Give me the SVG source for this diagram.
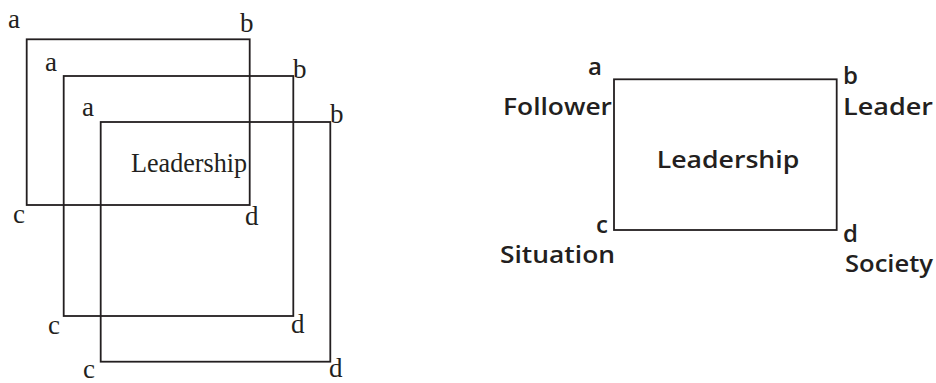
<svg xmlns="http://www.w3.org/2000/svg" width="936" height="383" viewBox="0 0 936 383">
<style>
.box{fill:none;stroke:#231f20;stroke-width:1.8}
.s{font-family:"Liberation Serif",serif;font-size:27px;fill:#231f20}
.r{font-family:"Open Sans","Noto Sans",sans-serif;font-size:24px;font-weight:600;fill:#231f20}
</style>
<rect width="936" height="383" fill="#fff"/>
<g id="rect1">
<rect class="box" x="26.7" y="39.3" width="223" height="165.7"/>
<text class="s" x="8" y="28">a</text>
<text class="s" x="240" y="32">b</text>
<text class="s" x="13" y="223">c</text>
<text class="s" x="245" y="225">d</text>
</g>
<g id="rect2">
<rect class="box" x="63.7" y="76" width="229.6" height="240"/>
<text class="s" x="45" y="71">a</text>
<text class="s" x="293" y="78">b</text>
<text class="s" x="48" y="334">c</text>
<text class="s" x="291" y="333">d</text>
</g>
<g id="rect3">
<rect class="box" x="100.7" y="122" width="229.6" height="239.7"/>
<text class="s" x="82" y="116">a</text>
<text class="s" x="330" y="123">b</text>
<text class="s" x="83" y="378">c</text>
<text class="s" x="329" y="377">d</text>
<text class="s" x="131" y="172" font-size="25" textLength="116" lengthAdjust="spacingAndGlyphs">Leadership</text>
</g>
<g id="model">
<rect class="box" x="614" y="79.3" width="222.7" height="150.7"/>
<text class="r" x="656.7" y="168.3" textLength="142.6" lengthAdjust="spacingAndGlyphs">Leadership</text>
<text class="r" x="588" y="75">a</text>
<text class="r" x="503" y="115" textLength="109" lengthAdjust="spacingAndGlyphs">Follower</text>
<text class="r" x="843" y="84">b</text>
<text class="r" x="843" y="115" textLength="90" lengthAdjust="spacingAndGlyphs">Leader</text>
<text class="r" x="596" y="233">c</text>
<text class="r" x="500" y="263" textLength="115" lengthAdjust="spacingAndGlyphs">Situation</text>
<text class="r" x="843" y="242">d</text>
<text class="r" x="845" y="272" textLength="88" lengthAdjust="spacingAndGlyphs">Society</text>
</g>
</svg>
